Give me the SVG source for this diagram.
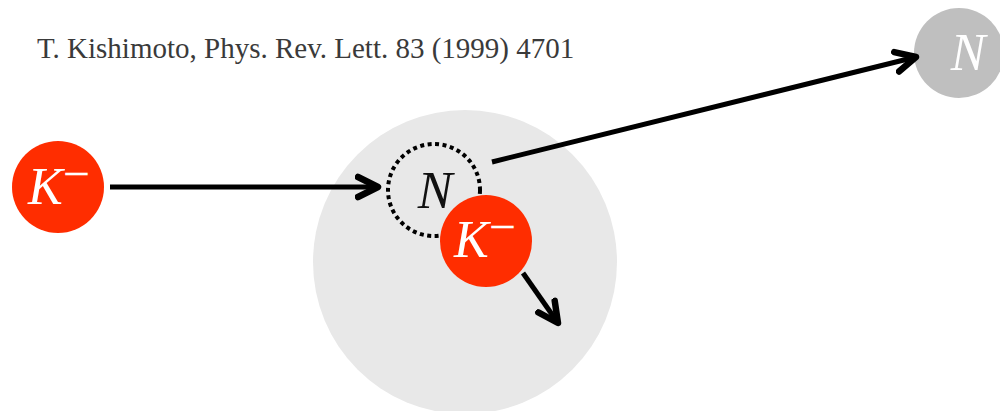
<svg xmlns="http://www.w3.org/2000/svg" width="1000" height="411" viewBox="0 0 1000 411">
<defs>
<style>
.lbl{font-family:"Liberation Serif","Times New Roman",serif;font-style:italic;font-size:52px;text-anchor:middle}
.cite{font-family:"Liberation Serif","Times New Roman",serif;font-size:29px;fill:#3a3a3a}
.arr{stroke:#000;stroke-width:5;fill:none}
.red{fill:#ff2d00}
.sup{font-style:normal;font-size:48px}
</style>
<marker id="head" markerUnits="userSpaceOnUse" viewBox="0 0 28 28" markerWidth="28" markerHeight="28" refX="23" refY="14" orient="auto">
<path d="M3,4 L23,14 L3,24" fill="none" stroke="#000" stroke-width="6.5" stroke-linejoin="round" stroke-linecap="round"/>
</marker>
</defs>
<rect width="1000" height="411" fill="#fff"/>
<text class="cite" x="37" y="58">T. Kishimoto, Phys. Rev. Lett. 83 (1999) 4701</text>
<g id="nucleus">
<circle cx="465" cy="262" r="152" fill="#e8e8e8"/>
</g>
<g id="N-bound">
<circle cx="434" cy="190" r="46" fill="none" stroke="#000" stroke-width="4" stroke-dasharray="4 3.5"/>
<text class="lbl" x="435" y="208" fill="#111">N</text>
</g>
<g id="K-incoming">
<circle cx="58" cy="187" r="46" class="red"/>
<text class="lbl" x="59" y="204" fill="#fff">K<tspan class="sup" dy="-14">−</tspan></text>
</g>
<g id="K-bound">
<circle cx="486" cy="241" r="46" class="red"/>
<text class="lbl" x="485" y="257" fill="#fff">K<tspan class="sup" dy="-14">−</tspan></text>
</g>
<g id="N-out">
<circle cx="959" cy="53" r="45" fill="#bfbfbf"/>
<text class="lbl" x="968" y="70" fill="#fff">N</text>
</g>
<g id="connectors">
<line class="arr" x1="110" y1="187" x2="378" y2="187" marker-end="url(#head)"/>
<line class="arr" x1="492" y1="162" x2="916" y2="57" marker-end="url(#head)"/>
<line class="arr" x1="523" y1="273" x2="558" y2="323" marker-end="url(#head)"/>
</g>
</svg>
